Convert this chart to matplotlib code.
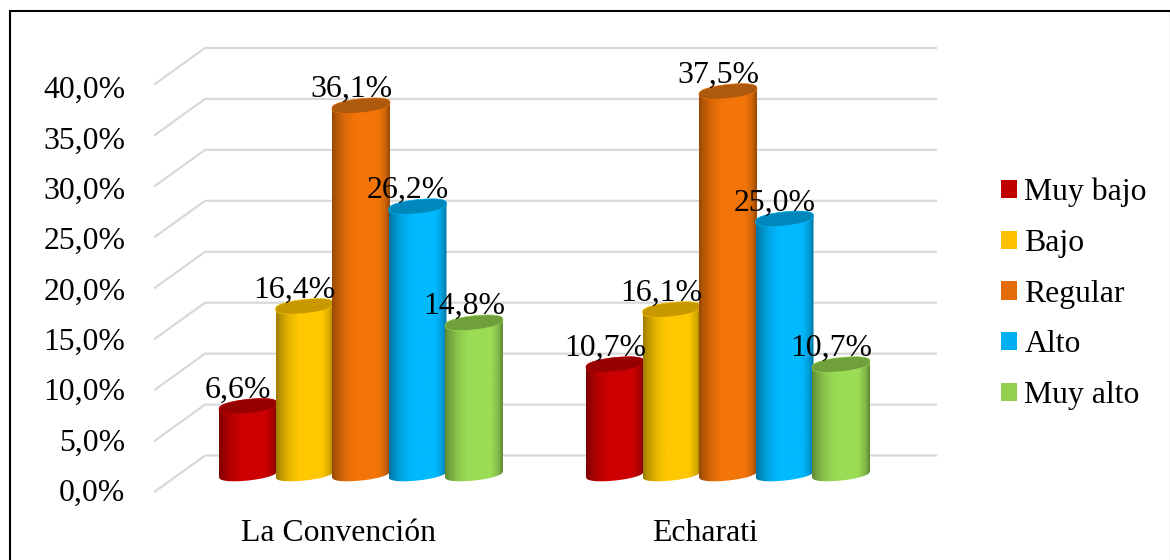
import numpy as np
import matplotlib
matplotlib.use('Agg')
import matplotlib.pyplot as plt
from matplotlib.patches import Patch, PathPatch, Polygon, Rectangle
from matplotlib.path import Path
from matplotlib.ticker import FuncFormatter

plt.rcParams['font.family'] = ['Liberation Serif', 'DejaVu Serif']

categories = ['La Convención', 'Echarati']
series = ['Muy bajo', 'Bajo', 'Regular', 'Alto', 'Muy alto']
values = {
    'Muy bajo': [6.6, 10.7],
    'Bajo': [16.4, 16.1],
    'Regular': [36.1, 37.5],
    'Alto': [26.2, 25.0],
    'Muy alto': [14.8, 10.7],
}
yticks = [0, 5, 10, 15, 20, 25, 30, 35, 40]

legend_colors = ['#C00000', '#FFC000', '#E36C09', '#00B0F0', '#92D050']
side_colors = ['#CC0000', '#FFC800', '#F37509', '#00B9FF', '#9BDC55']
top_colors = ['#960000', '#C89800', '#AD5A0E', '#0088BC', '#70A03C']

W, H = 1170, 560
FS = 22.9

# 3d look: back wall is shifted up and right from the front edge
depth_x = 50 / 367
depth_y = 36 / 10.2
bar_step = 56.5 / 367
half_w = 29 / 367
ell_h = 7 / 10.2
ell_tilt = 3 / 10.2


def decimal_pct(v, pos=None):
    return f'{v:.1f}%'.replace('.', ',')


def rim(t):
    # a bit boxier than a true ellipse, the caps have blunt ends
    s = np.sin(t)
    return np.sign(s) * np.abs(s) ** 0.75


def cylinder(ax, x, y0, y1, side, top, z):
    t = np.linspace(0, np.pi, 60)
    xs = x + half_w * np.cos(t)
    upper = y1 + ell_h * rim(t) + ell_tilt * np.cos(t)
    lower = y0 - ell_h * rim(t[::-1]) + ell_tilt * np.cos(t[::-1])
    body = np.column_stack([np.r_[xs, xs[::-1]], np.r_[upper, lower]])

    stops = [0.0, 0.08, 0.22, 0.4, 0.8, 0.92, 1.0]
    shade = [0.62, 0.75, 0.9, 1.0, 1.0, 0.85, 0.62]
    pos = np.linspace(0, 1, 128)
    rgb = np.array(matplotlib.colors.to_rgb(side))
    grad = np.outer(np.interp(pos, stops, shade), rgb)[None, :, :]

    im = ax.imshow(grad, extent=[x - half_w, x + half_w, y0 - 2, y1 + 2],
                   aspect='auto', interpolation='bilinear', zorder=z)
    im.set_clip_path(PathPatch(Path(body), transform=ax.transData))

    t2 = np.linspace(0, 2 * np.pi, 120)
    cap = np.column_stack([x + half_w * np.cos(t2),
                           y1 + ell_h * rim(t2) + ell_tilt * np.cos(t2)])
    ax.add_patch(Polygon(cap, closed=True, facecolor=top, edgecolor=side,
                         linewidth=0.4, zorder=z + 0.1))


fig = plt.figure(figsize=(W / 100, H / 100), dpi=100)

# main axes: 0% of the front edge at y=491.5 px, 10.2 px per percent
ax = fig.add_axes([155 / W, (H - 491.5) / H, (936 - 155) / W, (491.5 - 48) / H])
ax.set_xlim((155 - 361) / 367, (936 - 361) / 367)
ax.set_ylim(0, 40 + depth_y)
ax.set_autoscale_on(False)
for s in ax.spines.values():
    s.set_visible(False)
ax.patch.set_alpha(0)

xl, xr = ax.get_xlim()
for v in yticks:
    ax.plot([xl, xl + depth_x, xr], [v, v + depth_y, v + depth_y],
            color='#D9D9D9', lw=1.6, zorder=1, clip_on=False)

base = depth_y / 2
x_pos = np.arange(len(categories))
for i, name in enumerate(series):
    for j, val in enumerate(values[name]):
        x = x_pos[j] + (i - 2) * bar_step
        cylinder(ax, x, base, base + val, side_colors[i], top_colors[i], 3 + i)
        ax.annotate(decimal_pct(val), xy=(x, base + val), xytext=(-7.2, 11.5),
                    textcoords='offset points', ha='center', va='center',
                    fontsize=FS, color='black', zorder=20)

ax.set_yticks([])
ax.set_xticks(x_pos - 0.062)
ax.set_xticklabels(categories, fontsize=FS)
ax.tick_params(axis='x', length=0, pad=19.5)

# value labels sit on a slightly tighter scale than the gridlines
ax_y = fig.add_axes([125.5 / W, (H - 490) / H, 1 / W, (490 - 87) / H])
ax_y.set_ylim(0, 40)
ax_y.set_xticks([])
ax_y.set_yticks(yticks)
ax_y.yaxis.set_major_formatter(FuncFormatter(decimal_pct))
ax_y.tick_params(axis='y', length=0, pad=0, labelsize=FS)
for s in ax_y.spines.values():
    s.set_visible(False)
ax_y.patch.set_alpha(0)

handles = [Patch(facecolor=c, label=n) for c, n in zip(legend_colors, series)]
fig.legend(handles=handles, loc='center left',
           bbox_to_anchor=(995 / W, (H - 294) / H), frameon=False, fontsize=FS,
           handlelength=0.5, handleheight=0.5, handletextpad=0.22,
           labelspacing=0.68, borderpad=0.2, borderaxespad=0)

# outer chart border
fig.add_artist(Rectangle((10 / W, -0.02), (W - 9) / W, (H - 11) / H + 0.02,
                         transform=fig.transFigure, fill=False,
                         edgecolor='black', lw=1.5, clip_on=False))

fig.savefig('out.png', dpi=100)
